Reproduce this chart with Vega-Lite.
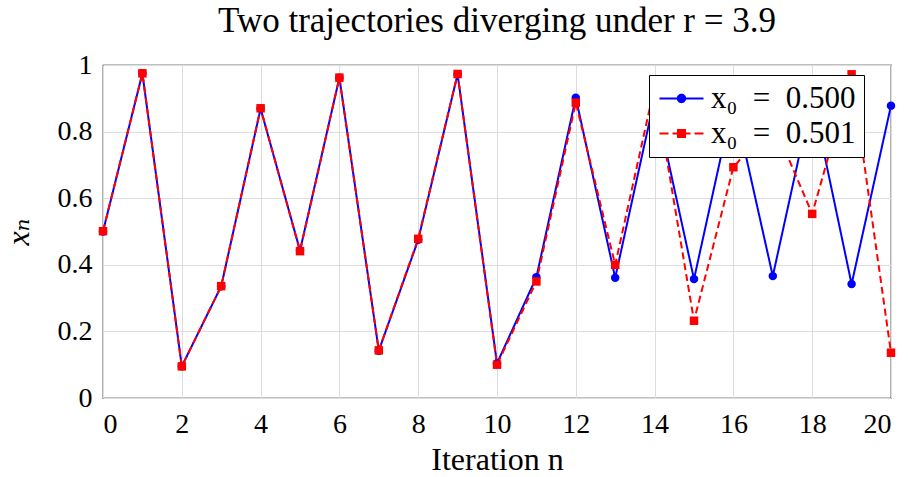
{
  "$schema": "https://vega.github.io/schema/vega-lite/v6.json",
  "width": 788,
  "height": 333,
  "autosize": "none",
  "padding": {"left": 103, "top": 65, "right": 17, "bottom": 79},
  "background": "white",
  "title": {
    "text": "Two trajectories diverging under r = 3.9",
    "font": "'Liberation Serif', 'DejaVu Serif', serif",
    "fontSize": 35,
    "fontWeight": "normal",
    "color": "black",
    "frame": "group",
    "anchor": "middle",
    "offset": 12
  },
  "config": {
    "font": "'Liberation Serif', 'DejaVu Serif', serif",
    "view": {"stroke": "black", "strokeWidth": 1.2}
  },
  "data": {
    "values": [
      {"n": 0, "series": "x₀ = 0.500", "x": 0.5},
      {"n": 1, "series": "x₀ = 0.500", "x": 0.975},
      {"n": 2, "series": "x₀ = 0.500", "x": 0.095},
      {"n": 3, "series": "x₀ = 0.500", "x": 0.3355},
      {"n": 4, "series": "x₀ = 0.500", "x": 0.869},
      {"n": 5, "series": "x₀ = 0.500", "x": 0.443},
      {"n": 6, "series": "x₀ = 0.500", "x": 0.962},
      {"n": 7, "series": "x₀ = 0.500", "x": 0.142},
      {"n": 8, "series": "x₀ = 0.500", "x": 0.475},
      {"n": 9, "series": "x₀ = 0.500", "x": 0.9726},
      {"n": 10, "series": "x₀ = 0.500", "x": 0.104},
      {"n": 11, "series": "x₀ = 0.500", "x": 0.363},
      {"n": 12, "series": "x₀ = 0.500", "x": 0.902},
      {"n": 13, "series": "x₀ = 0.500", "x": 0.361},
      {"n": 14, "series": "x₀ = 0.500", "x": 0.9},
      {"n": 15, "series": "x₀ = 0.500", "x": 0.357},
      {"n": 16, "series": "x₀ = 0.500", "x": 0.895},
      {"n": 17, "series": "x₀ = 0.500", "x": 0.366},
      {"n": 18, "series": "x₀ = 0.500", "x": 0.905},
      {"n": 19, "series": "x₀ = 0.500", "x": 0.342},
      {"n": 20, "series": "x₀ = 0.500", "x": 0.878},
      {"n": 0, "series": "x₀ = 0.501", "x": 0.501},
      {"n": 1, "series": "x₀ = 0.501", "x": 0.975},
      {"n": 2, "series": "x₀ = 0.501", "x": 0.095},
      {"n": 3, "series": "x₀ = 0.501", "x": 0.336},
      {"n": 4, "series": "x₀ = 0.501", "x": 0.87},
      {"n": 5, "series": "x₀ = 0.501", "x": 0.441},
      {"n": 6, "series": "x₀ = 0.501", "x": 0.962},
      {"n": 7, "series": "x₀ = 0.501", "x": 0.143},
      {"n": 8, "series": "x₀ = 0.501", "x": 0.478},
      {"n": 9, "series": "x₀ = 0.501", "x": 0.973},
      {"n": 10, "series": "x₀ = 0.501", "x": 0.1},
      {"n": 11, "series": "x₀ = 0.501", "x": 0.35},
      {"n": 12, "series": "x₀ = 0.501", "x": 0.887},
      {"n": 13, "series": "x₀ = 0.501", "x": 0.4},
      {"n": 14, "series": "x₀ = 0.501", "x": 0.936},
      {"n": 15, "series": "x₀ = 0.501", "x": 0.232},
      {"n": 16, "series": "x₀ = 0.501", "x": 0.693},
      {"n": 17, "series": "x₀ = 0.501", "x": 0.83},
      {"n": 18, "series": "x₀ = 0.501", "x": 0.553},
      {"n": 19, "series": "x₀ = 0.501", "x": 0.972},
      {"n": 20, "series": "x₀ = 0.501", "x": 0.136}
    ]
  },
  "encoding": {
    "x": {
      "field": "n",
      "type": "quantitative",
      "scale": {"domain": [0, 20], "nice": false},
      "axis": {
        "values": [0, 2, 4, 6, 8, 10, 12, 14, 16, 18, 20],
        "title": "Iteration n",
        "labelFont": "'Liberation Serif', 'DejaVu Serif', serif",
        "labelFontSize": 28,
        "labelColor": "black",
        "titleFont": "'Liberation Serif', 'DejaVu Serif', serif",
        "titleFontSize": 32,
        "titleFontWeight": "normal",
        "titleColor": "black",
        "gridColor": "#dddddd",
        "gridWidth": 1,
        "domain": false,
        "ticks": false,
        "labelPadding": 12,
        "titlePadding": 6
      }
    },
    "y": {
      "field": "x",
      "type": "quantitative",
      "scale": {"domain": [0, 1], "nice": false},
      "axis": {
        "values": [0, 0.2, 0.4, 0.6, 0.8, 1],
        "format": "~g",
        "title": "xₙ",
        "labelFont": "'Liberation Serif', 'DejaVu Serif', serif",
        "labelFontSize": 28,
        "labelColor": "black",
        "titleFont": "'Liberation Serif', 'DejaVu Serif', serif",
        "titleFontSize": 32,
        "titleFontWeight": "normal",
        "titleFontStyle": "italic",
        "titleColor": "black",
        "gridColor": "#dddddd",
        "gridWidth": 1,
        "domain": false,
        "ticks": false,
        "labelPadding": 11,
        "titlePadding": 22
      }
    }
  },
  "layer": [
    {
      "mark": {"type": "line", "strokeWidth": 2},
      "encoding": {
        "color": {
          "field": "series",
          "type": "nominal",
          "scale": {"domain": ["x₀ = 0.500", "x₀ = 0.501"], "range": ["#0000ff", "#ff0000"]},
          "legend": null
        },
        "strokeDash": {
          "field": "series",
          "type": "nominal",
          "scale": {"domain": ["x₀ = 0.500", "x₀ = 0.501"], "range": [[1, 0], [7, 4]]},
          "legend": null
        }
      }
    },
    {
      "mark": {"type": "point", "filled": true, "opacity": 1, "size": 72},
      "encoding": {
        "color": {
          "field": "series",
          "type": "nominal",
          "scale": {"domain": ["x₀ = 0.500", "x₀ = 0.501"], "range": ["#0000ff", "#ff0000"]},
          "legend": null
        },
        "shape": {
          "field": "series",
          "type": "nominal",
          "scale": {"domain": ["x₀ = 0.500", "x₀ = 0.501"], "range": ["circle", "square"]},
          "legend": null
        }
      }
    },
    {
      "mark": {"type": "point", "filled": true, "opacity": 0, "size": 900},
      "encoding": {
        "color": {
          "field": "series",
          "type": "nominal",
          "scale": {"domain": ["x₀ = 0.500", "x₀ = 0.501"], "range": ["#0000ff", "#ff0000"]},
          "legend": {
            "title": null,
            "orient": "none",
            "legendX": 546,
            "legendY": 10,
            "labelFont": "'Liberation Serif', 'DejaVu Serif', serif",
            "labelFontSize": 31,
            "labelColor": "black",
            "labelOffset": 14,
            "labelLimit": 400,
            "labelExpr": "datum.label == 'x₀ = 0.500' ? 'x₀\u2002=\u20020.500' : 'x₀\u2002=\u20020.501'",
            "strokeColor": "black",
            "fillColor": "white",
            "padding": 8,
            "rowPadding": 3,
            "symbolOffset": 9,
            "symbolSize": 900,
            "symbolOpacity": 1,
            "symbolStrokeWidth": 0
          }
        },
        "shape": {
          "field": "series",
          "type": "nominal",
          "scale": {
            "domain": ["x₀ = 0.500", "x₀ = 0.501"],
            "range": [
              "M-1.467,-0.06H1.467V0.06H-1.467Z M0.313,0A0.313,0.313 0 1,1 -0.313,0A0.313,0.313 0 1,1 0.313,0Z",
              "M-1.467,-0.06H-0.867V0.06H-1.467Z M-0.6,-0.06H-0.3V-0.3H0.3V-0.06H0.6V0.06H0.3V0.3H-0.3V0.06H-0.6Z M0.867,-0.06H1.467V0.06H0.867Z"
            ]
          },
          "legend": {
            "title": null,
            "orient": "none",
            "legendX": 546,
            "legendY": 10,
            "labelFont": "'Liberation Serif', 'DejaVu Serif', serif",
            "labelFontSize": 31,
            "labelColor": "black",
            "labelOffset": 14,
            "labelLimit": 400,
            "labelExpr": "datum.label == 'x₀ = 0.500' ? 'x₀\u2002=\u20020.500' : 'x₀\u2002=\u20020.501'",
            "strokeColor": "black",
            "fillColor": "white",
            "padding": 8,
            "rowPadding": 3,
            "symbolOffset": 9,
            "symbolSize": 900,
            "symbolOpacity": 1,
            "symbolStrokeWidth": 0
          }
        }
      }
    }
  ],
  "resolve": {
    "scale": {"shape": "independent", "color": "independent", "strokeDash": "independent"},
    "legend": {"shape": "independent", "color": "independent", "strokeDash": "independent"}
  }
}
